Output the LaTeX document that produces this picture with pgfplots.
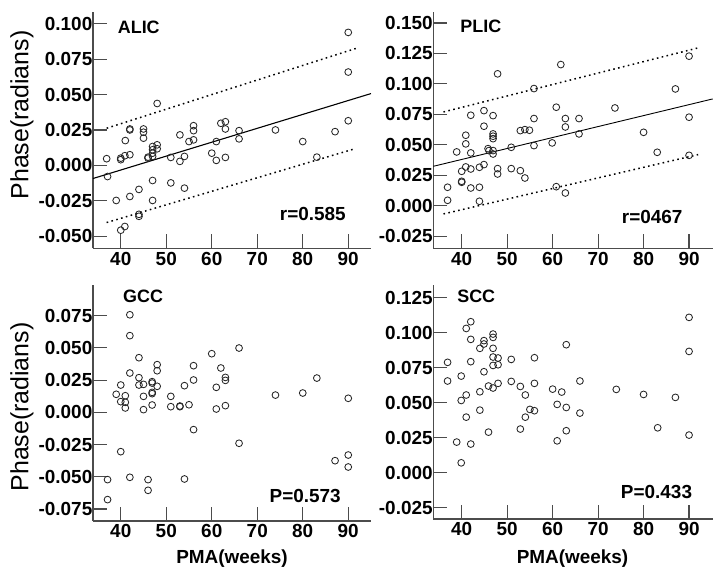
\documentclass[border=0pt]{standalone}
\usepackage{fontspec}
\setmainfont{Liberation Sans}
\usepackage{pgfplots}
\pgfplotsset{compat=1.18}
\usepackage{pgfplotstable}

\pgfplotstableread{
x y
36.9 0.0047
37.1 -0.0079
39.0 -0.0248
40.0 -0.0458
40.9 -0.0432
40.0 0.0040
40.0 0.0051
40.9 0.0068
42.0 0.0075
41.0 0.0175
42.0 0.0257
42.0 0.0250
42.0 -0.0220
44.0 -0.0170
44.0 -0.0346
44.0 -0.0360
45.0 0.0257
45.0 0.0234
45.0 0.0192
46.0 0.0051
46.0 0.0058
47.0 -0.0107
47.0 -0.0248
47.0 0.0133
47.0 0.0110
47.0 0.0086
47.0 0.0063
48.0 0.0437
48.0 0.0145
48.0 0.0117
51.0 0.0056
51.0 -0.0124
53.0 0.0215
53.0 0.0028
54.0 0.0063
54.0 -0.0161
55.0 0.0168
56.0 0.0280
56.0 0.0245
56.0 0.0180
60.0 0.0086
61.0 0.0168
61.0 0.0035
62.0 0.0297
63.0 0.0308
63.0 0.0257
63.0 0.0056
66.0 0.0245
66.0 0.0187
74.0 0.0250
80.0 0.0168
83.1 0.0058
87.1 0.0238
90.0 0.0315
90.0 0.0659
90.0 0.0939
}\alic

\pgfplotstableread{
x y
36.9 0.0151
36.9 0.0044
38.9 0.0441
40.0 0.0282
40.0 0.0200
40.0 0.0192
40.9 0.0578
40.9 0.0507
40.9 0.0318
42.0 0.0742
42.0 0.0433
42.0 0.0301
42.0 0.0145
43.9 0.0315
43.9 0.0151
43.9 0.0036
44.9 0.0780
44.9 0.0652
44.9 0.0337
45.8 0.0468
46.0 0.0452
46.9 0.0739
46.9 0.0589
46.9 0.0570
46.9 0.0550
46.9 0.0452
46.9 0.0424
47.9 0.1082
47.9 0.0304
47.9 0.0260
50.9 0.0479
50.9 0.0304
52.9 0.0616
52.9 0.0287
53.9 0.0624
53.9 0.0227
54.9 0.0619
55.9 0.0961
55.9 0.0715
55.9 0.0493
59.9 0.0515
60.8 0.0808
60.8 0.0156
61.8 0.1158
62.8 0.0715
62.8 0.0646
62.8 0.0104
65.8 0.0715
65.8 0.0589
73.7 0.0802
80.0 0.0602
83.0 0.0438
87.0 0.0958
90.0 0.1227
90.0 0.0726
90.0 0.0413
}\plic

\pgfplotstableread{
x y
37.1 -0.0522
37.1 -0.0677
39.0 0.0140
40.0 0.0212
40.0 0.0083
40.0 -0.0305
41.0 0.0129
41.0 0.0078
41.0 0.0034
42.0 0.0757
42.0 0.0595
42.0 0.0305
42.0 -0.0504
44.0 0.0424
44.0 0.0269
44.0 0.0212
45.0 0.0217
45.0 0.0124
45.0 0.0021
46.0 -0.0522
46.0 -0.0605
46.9 0.0238
46.9 0.0227
46.9 0.0155
46.9 0.0145
46.9 0.0057
48.0 0.0370
48.0 0.0323
48.0 0.0202
51.0 0.0124
51.0 0.0044
53.0 0.0049
53.0 0.0044
54.0 0.0207
54.0 -0.0517
55.0 0.0059
56.0 0.0362
56.0 0.0251
56.0 -0.0134
60.0 0.0455
61.0 0.0194
61.0 0.0026
62.0 0.0344
63.0 0.0271
63.0 0.0248
63.0 0.0052
66.0 0.0499
66.0 -0.0240
74.0 0.0134
80.0 0.0150
83.1 0.0266
87.1 -0.0375
90.0 0.0109
90.0 -0.0331
90.0 -0.0424
}\gcc

\pgfplotstableread{
x y
36.9 0.0788
36.9 0.0655
38.9 0.0219
39.9 0.0690
39.9 0.0516
39.9 0.0071
41.0 0.1030
41.0 0.0555
41.0 0.0397
42.0 0.1078
42.0 0.0952
42.0 0.0793
42.0 0.0205
44.0 0.0888
44.0 0.0578
44.0 0.0447
44.9 0.0943
44.9 0.0919
44.9 0.0721
45.9 0.0619
45.9 0.0290
46.9 0.0990
46.9 0.0966
46.9 0.0888
46.9 0.0826
46.9 0.0766
46.9 0.0605
48.0 0.0819
48.0 0.0771
48.0 0.0638
50.9 0.0809
50.9 0.0652
52.9 0.0616
52.9 0.0312
54.0 0.0555
54.0 0.0397
55.0 0.0452
56.0 0.0821
56.0 0.0638
56.0 0.0443
60.0 0.0597
61.0 0.0488
61.0 0.0228
62.0 0.0576
63.0 0.0914
63.0 0.0466
63.0 0.0300
66.0 0.0655
66.0 0.0426
74.0 0.0595
80.0 0.0559
83.1 0.0321
87.0 0.0538
90.0 0.1109
90.0 0.0866
90.0 0.0269
}\scc

\pgfplotsset{
  panel/.style={
    scale only axis, width=278bp, height=236bp, anchor=south west,
    axis lines*=left,
    axis line style={line width=1.3bp, color=black!70},
    tick align=inside, major tick length=14bp,
    tick style={line width=1.2bp, color=black!70},
    xmin=33.9, xmax=95, xtick={40,50,...,90},
    scaled y ticks=false, scaled x ticks=false,
    /pgf/number format/assume math mode=true,
    ticklabel style={font=\fontsize{19}{20}\selectfont\bfseries},
    yticklabel style={inner xsep=0.5bp, /pgf/number format/fixed, /pgf/number format/fixed zerofill, /pgf/number format/precision=3},
    clip=false,
  },
  pts/.style={only marks, mark=o, mark size=3.4bp, mark options={line width=0.85bp, draw=black!85}},
  fit/.style={no marks, line width=1.1bp, black},
  band/.style={no marks, line width=1.5bp, black, dash pattern=on 1.6bp off 3.4bp},
}

\begin{document}
\begin{tikzpicture}
\useasboundingbox (0,0) rectangle (728bp,-587bp);

% ALIC
\begin{axis}[panel, at={(93bp,-248.3bp)}, ymin=-0.0586, ymax=0.1081,
  ytick={-0.05,-0.025,0,0.025,0.05,0.075,0.1}]
\addplot[pts] table[x=x,y=y] {\alic};
\addplot[fit] coordinates {(33.9,-0.0093) (95,0.0507)};
\addplot[band] coordinates {(36.9,0.0262) (92,0.0829)};
\addplot[band] coordinates {(36.9,-0.0404) (91.1,0.0114)};
\node[font=\fontsize{18}{20}\selectfont\bfseries] at (axis cs:43.96,0.0974) {ALIC};
\node[anchor=east, inner sep=0pt, font=\fontsize{19}{20}\selectfont\bfseries] at (axis cs:89.5,-0.0346) {r=0.585};
\end{axis}

% PLIC
\begin{axis}[panel, at={(433.3bp,-248.3bp)}, width=279.4bp, xmin=33.76, xmax=95.2, ymin=-0.035, ymax=0.1587,
  ytick={-0.025,0,0.025,0.05,0.075,0.1,0.125,0.15}]
\addplot[pts] table[x=x,y=y] {\plic};
\addplot[fit, line width=0.9bp] coordinates {(33.76,0.0323) (95.2,0.0876)};
\addplot[band] coordinates {(36,0.0769) (92,0.1295)};
\addplot[band] coordinates {(36,-0.0068) (92,0.0419)};
\node[font=\fontsize{18}{20}\selectfont\bfseries] at (axis cs:44.2,0.1472) {PLIC};
\node[anchor=east, inner sep=0pt, font=\fontsize{19}{20}\selectfont\bfseries] at (axis cs:88.6,-0.009) {r=0467};
\end{axis}

% GCC
\begin{axis}[panel, at={(93bp,-521bp)}, ymin=-0.0843, ymax=0.0988,
  ytick={-0.075,-0.05,-0.025,0,0.025,0.05,0.075}]
\addplot[pts] table[x=x,y=y] {\gcc};
\node[font=\fontsize{18}{20}\selectfont\bfseries] at (axis cs:44.9,0.0898) {GCC};
\node[anchor=east, inner sep=0pt, font=\fontsize{19}{20}\selectfont\bfseries] at (axis cs:88.4,-0.0647) {P=0.573};
\end{axis}

% SCC
\begin{axis}[panel, at={(433.3bp,-519bp)}, width=279.4bp, height=234bp, xmin=33.76, xmax=95.2, ymin=-0.033, ymax=0.134,
  ytick={-0.025,0,0.025,0.05,0.075,0.1,0.125}]
\addplot[pts] table[x=x,y=y] {\scc};
\node[font=\fontsize{18}{20}\selectfont\bfseries] at (axis cs:43.2,0.1262) {SCC};
\node[anchor=east, inner sep=0pt, font=\fontsize{19}{20}\selectfont\bfseries] at (axis cs:90.7,-0.0136) {P=0.433};
\end{axis}

% axis titles
\node[rotate=90, font=\fontsize{25}{28}\selectfont] at (22bp,-115bp) {Phase(radians)};
\node[rotate=90, font=\fontsize{25}{28}\selectfont] at (22bp,-407bp) {Phase(radians)};
\node[font=\fontsize{19}{22}\selectfont\bfseries] at (232bp,-559bp) {PMA(weeks)};
\node[font=\fontsize{19}{22}\selectfont\bfseries] at (572.5bp,-559bp) {PMA(weeks)};
\end{tikzpicture}
\end{document}
